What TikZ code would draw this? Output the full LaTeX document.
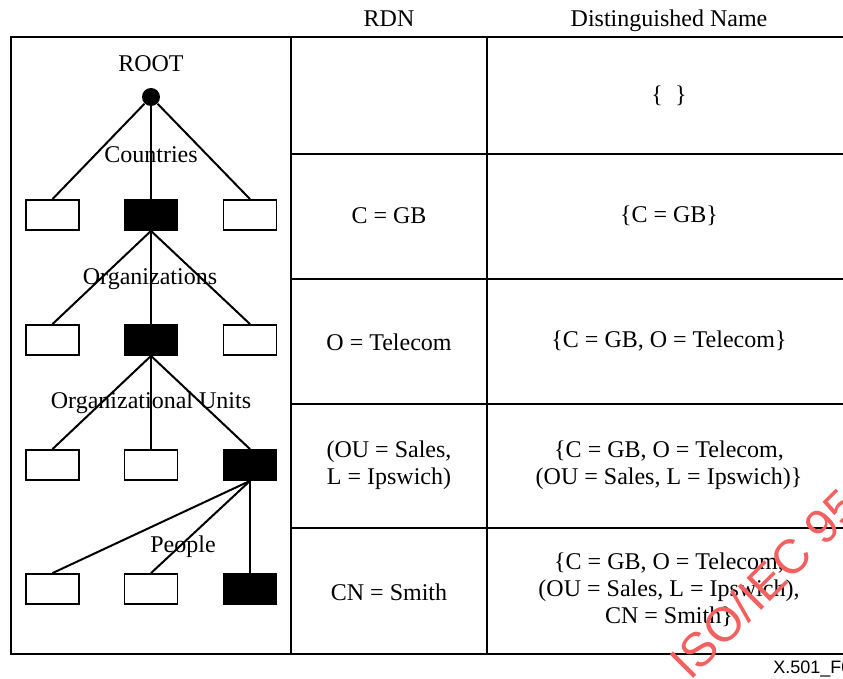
\documentclass[tikz,border=0pt]{standalone}
\usepackage{fontspec}
\setmainfont{Liberation Serif}
\newfontfamily\stampfont{Liberation Sans}
\definecolor{stampred}{RGB}{242,96,96}

\begin{document}
\begin{tikzpicture}[x=0.5pt, y=-0.5pt,
    txt/.style={font=\fontsize{12}{13.5}\selectfont, align=center, inner sep=0pt},
    leaf/.style={rectangle, draw=black, fill=white, line width=0.9pt, minimum width=26.5pt, minimum height=15pt, inner sep=0pt},
    chosen/.style={leaf, fill=black},
    branch/.style={line width=1pt},
    rule/.style={line width=1.1pt}]
    \useasboundingbox (0,0) rectangle (843,679);

    % table frame
    \draw[rule] (843,37) -- (11,37) -- (11,654) -- (843,654);
    \draw[rule] (291,37) -- (291,654);
    \draw[rule] (487,37) -- (487,654);
    \foreach \y in {154,279,404,528}
        \draw[rule] (291,\y) -- (843,\y);

    \node[txt, anchor=base] (rdnhead) at (389,27) {RDN};
    \node[txt, anchor=base] (dnhead) at (669,27) {Distinguished Name};

    % tree
    \node[txt, anchor=base] (rootlbl) at (151,72) {ROOT};
    \node[circle, fill=black, minimum size=9pt, inner sep=0pt] (root) at (151,97) {};

    \node[leaf] (c1) at (52.5,215) {};
    \node[chosen] (c2) at (151,215) {};
    \node[leaf] (c3) at (250,215) {};

    \node[leaf] (o1) at (52.5,340) {};
    \node[chosen] (o2) at (151,340) {};
    \node[leaf] (o3) at (250,340) {};

    \node[leaf] (u1) at (52.5,465) {};
    \node[leaf] (u2) at (151,465) {};
    \node[chosen] (u3) at (250,465) {};

    \node[leaf] (p1) at (52.5,589) {};
    \node[leaf] (p2) at (151,589) {};
    \node[chosen] (p3) at (250,589) {};

    \foreach \k in {1,2,3} {
        \draw[branch] (root) -- (c\k.north);
        \draw[branch] (c2.south) -- (o\k.north);
        \draw[branch] (o2.south) -- (u\k.north);
        \draw[branch] (u3.south) -- (p\k.north);
    }

    \node[txt, anchor=base] (countries) at (151,163) {Countries};
    \node[txt, anchor=base] (orgs) at (150,285) {Organizations};
    \node[txt, anchor=base] (units) at (151,409) {Organizational Units};
    \node[txt, anchor=base] (people) at (183,553) {People};

    % names
    \node[txt] (dn1) at (669,96) {\{\enspace\}};
    \node[txt] (rdn2) at (389,216) {C = GB};
    \node[txt] (dn2) at (669,216) {\{C = GB\}};
    \node[txt] (rdn3) at (389,342) {O = Telecom};
    \node[txt] (dn3) at (669,341) {\{C = GB, O = Telecom\}};
    \node[txt] (rdn4) at (389,465) {(OU = Sales,\\L = Ipswich)};
    \node[txt] (dn4) at (669,465) {\{C = GB, O = Telecom,\\(OU = Sales, L = Ipswich)\}};
    \node[txt] (rdn5) at (389,592) {CN = Smith};
    \node[txt] (dn5) at (669,590) {\{C = GB, O = Telecom,\\(OU = Sales, L = Ipswich),\\CN = Smith\}};

    \node[font=\stampfont\fontsize{9}{9}\selectfont, anchor=base west, inner sep=0pt] (figid) at (773,674) {X.501\_F0};
    \node[font=\stampfont\fontsize{24}{24}\selectfont, text=stampred, rotate=45, anchor=base west, inner sep=0pt] (stamp) at (690,682) {ISO/IEC 95};
\end{tikzpicture}
\end{document}
